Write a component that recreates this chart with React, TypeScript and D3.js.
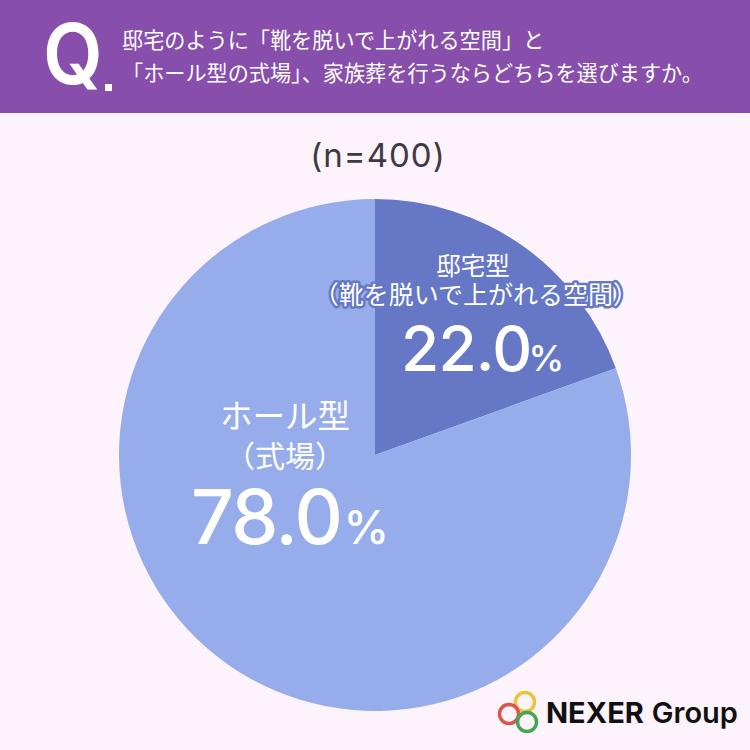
import React from 'react';
import * as d3 from 'd3';

// Data
const categories = ['邸宅型', 'ホール型'];
// printed percentages
const labelValues = [22.0, 78.0];
// the slices in the picture are not drawn to the printed numbers: the dark one sweeps about 70deg
const drawnShares = [19.5, 80.5];
const colors = ['#6577c5', '#97aceb'];
const questionLines = [
  '邸宅のように「靴を脱いで上がれる空間」と',
  '「ホール型の式場」、家族葬を行うならどちらを選びますか。',
];
const sampleLabel = '(n=400)';
const logoRings = ['#e8c53f', '#d9574c', '#45a653'];

const width = 750;
const height = 750;
const cx = 375;
const cy = 455;
const radius = 256;
const jp = '"Noto Sans CJK JP", "Noto Sans", sans-serif';
const latin = 'Inter, "Noto Sans", sans-serif';

const App = () => {
  const pie = d3.pie<number>().sort(null).value(d => d);
  const arc = d3.arc<d3.PieArcDatum<number>>().innerRadius(0).outerRadius(radius);
  const arcs = pie(drawnShares);

  return (
    <svg
      width={width}
      height={height}
      viewBox={`0 0 ${width} ${height}`}
      style={{ position: 'absolute', left: 0, top: 0, display: 'block' }}
    >
      <rect width={width} height={height} fill="#fdf3fd" />

      {/* Header */}
      <rect width={width} height={113} fill="#874fab" />
      <text
        transform="translate(43,84) scale(0.92,1)"
        fontFamily={latin}
        fontSize={84}
        fontWeight={600}
        fill="#fff"
      >
        Q
      </text>
      <rect x={105} y={84} width={7} height={7} fill="#fff" />
      {questionLines.map((line, i) => (
        <text key={i} x={122} y={48 + i * 33} fontFamily={jp} fontSize={21.15} fill="#fff">
          {line}
        </text>
      ))}

      <text
        x={378}
        y={167}
        textAnchor="middle"
        fontFamily={latin}
        fontSize={33}
        letterSpacing={1}
        fill="#3e3a45"
      >
        {sampleLabel}
      </text>

      {/* Pie */}
      <g transform={`translate(${cx},${cy})`}>
        {arcs.map((d, i) => (
          <path key={i} d={arc(d) ?? ''} fill={colors[i]} />
        ))}
      </g>

      {/* Slice labels */}
      <text x={473} y={275} textAnchor="middle" fontFamily={jp} fontSize={24.5} fill="#fff">{categories[0]}</text>
      <text
        x={476}
        y={304}
        textAnchor="middle"
        fontFamily={jp}
        fontSize={25}
        fill="#fff"
        stroke={colors[0]}
        strokeWidth={5}
        strokeLinejoin="round"
        paintOrder="stroke"
      >
        （靴を脱いで上がれる空間）
      </text>
      <text x={401} y={371} fontFamily={latin} fontSize={62} fontWeight={500} letterSpacing={-0.8} fill="#fff">
        {labelValues[0].toFixed(1)}
        <tspan fontSize={36} dx={-3} letterSpacing={0}>%</tspan>
      </text>

      <text x={285} y={428} textAnchor="middle" fontFamily={jp} fontSize={32.5} fill="#fff">{categories[1]}</text>
      <text x={285} y={467} textAnchor="middle" fontFamily={jp} fontSize={30} fill="#fff">（式場）</text>
      <text x={191} y={544} fontFamily={latin} fontSize={75} fontWeight={500} letterSpacing={-1.5} fill="#fff">
        {labelValues[1].toFixed(1)}
        <tspan fontSize={46} dx={2} letterSpacing={0}>%</tspan>
      </text>

      {/* Logo */}
      <circle cx={525} cy={702} r={9.5} fill="none" stroke={logoRings[0]} strokeWidth={3.5} />
      <circle cx={509} cy={714} r={9.5} fill="none" stroke={logoRings[1]} strokeWidth={3.5} />
      <circle cx={527} cy={722} r={9.5} fill="none" stroke={logoRings[2]} strokeWidth={3.5} />
      <text x={546} y={723} fontFamily={latin} fontSize={29} fontWeight={700} fill="#111">
        NEXER<tspan dx={8} fontWeight={600}>Group</tspan>
      </text>
    </svg>
  );
};

export default App;
